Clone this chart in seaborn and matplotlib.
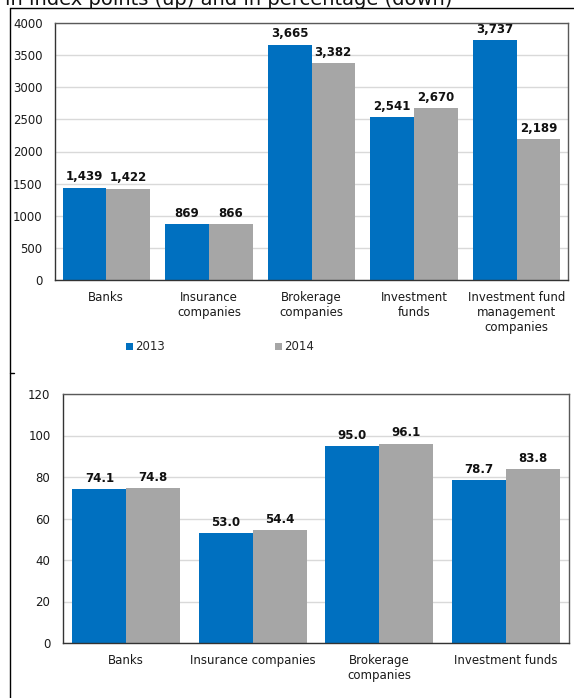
import matplotlib.pyplot as plt
import pandas as pd
import seaborn as sns
from matplotlib.lines import Line2D

# data
years = ['2013', '2014']
cats_top = ['Banks', 'Insurance\ncompanies', 'Brokerage\ncompanies', 'Investment\nfunds',
            'Investment fund\nmanagement\ncompanies']
top_2013 = [1439, 869, 3665, 2541, 3737]
top_2014 = [1422, 866, 3382, 2670, 2189]

cats_bottom = ['Banks', 'Insurance companies', 'Brokerage\ncompanies', 'Investment funds']
bottom_2013 = [74.1, 53.0, 95.0, 78.7]
bottom_2014 = [74.8, 54.4, 96.1, 83.8]

title = 'in index points (up) and in percentage (down)'
colors = ['#0070C0', '#A6A6A6']

sns.set_style('white')
plt.rcParams['font.family'] = ['DejaVu Sans']

W, H = 574, 698
fig = plt.figure(figsize=(W / 100, H / 100), dpi=100)


def px(x0, y0, x1, y1):
    # pixel box -> figure fraction rect
    return [x0 / W, 1 - y1 / H, (x1 - x0) / W, (y1 - y0) / H]


def long_df(cats, a, b):
    return pd.DataFrame({
        'cat': cats * 2,
        'val': a + b,
        'year': [years[0]] * len(cats) + [years[1]] * len(cats),
    })


def style_axis(ax, cats, ymax, ystep, fmt):
    n = len(cats)
    ax.set_xlim(-0.5, n - 0.5)
    ax.set_ylim(0, ymax)
    ax.set_yticks(range(0, ymax + 1, ystep))
    ax.set_xticks([i - 0.5 for i in range(n + 1)])
    ax.set_xticklabels([])
    ax.set_xticks(range(n), minor=True)
    ax.set_xticklabels(cats, minor=True, fontsize=8.5, color='#1a1a1a')
    ax.tick_params(axis='x', which='major', direction='out', length=4, width=1, color='#404040')
    ax.tick_params(axis='x', which='minor', length=0, pad=8)
    ax.tick_params(axis='y', direction='out', length=4, width=1, color='#404040',
                   labelsize=8.5, labelcolor='#1a1a1a', pad=5)
    ax.set_xlabel('')
    ax.set_ylabel('')
    ax.yaxis.grid(True, color='#D9D9D9', linewidth=1)
    ax.set_axisbelow(True)
    for s in ax.spines.values():
        s.set_visible(True)
        s.set_color('#595959')
        s.set_linewidth(1)
    ax.spines['left'].set_color('#333333')
    ax.spines['bottom'].set_color('#333333')
    for c in ax.containers:
        ax.bar_label(c, labels=[fmt(v) for v in c.datavalues], padding=3,
                     fontsize=8.5, fontweight='bold', color='#111111')


# top chart
ax1 = fig.add_axes(px(55, 23, 568, 280))
sns.barplot(data=long_df(cats_top, top_2013, top_2014), x='cat', y='val', hue='year',
            palette=colors, width=0.85, gap=0, linewidth=0, saturation=1, ax=ax1)
style_axis(ax1, cats_top, 4000, 500, lambda v: f'{v:,.0f}')
handles, labels = ax1.get_legend_handles_labels()
ax1.legend_.remove()
fig.legend(handles, labels, loc='center left', bbox_to_anchor=(126 / W, 1 - 347 / H),
           ncol=2, frameon=False, fontsize=8.5, handlelength=0.6, handleheight=0.6,
           handletextpad=0.2, columnspacing=9.3, borderpad=0, borderaxespad=0)

# bottom chart
ax2 = fig.add_axes(px(63, 394, 569, 643))
sns.barplot(data=long_df(cats_bottom, bottom_2013, bottom_2014), x='cat', y='val', hue='year',
            palette=colors, width=0.85, gap=0, linewidth=0, saturation=1, ax=ax2, legend=False)
style_axis(ax2, cats_bottom, 120, 20, lambda v: f'{v:.1f}')

# partly clipped heading (it is cut at the top edge in the reference too) and frame lines
fig.text(5 / W, 1 - 5 / H, title, fontsize=14, va='baseline', ha='left', color='#111111')
fig.add_artist(Line2D([10 / W, 10 / W], [0, 1 - 8 / H], color='black', lw=1,
                      transform=fig.transFigure))
fig.add_artist(Line2D([10 / W, 1], [1 - 8 / H, 1 - 8 / H], color='black', lw=1,
                      transform=fig.transFigure))
fig.add_artist(Line2D([10 / W, 14 / W], [1 - 373 / H, 1 - 373 / H], color='black', lw=1,
                      transform=fig.transFigure))

fig.savefig('out.png', dpi=100)
